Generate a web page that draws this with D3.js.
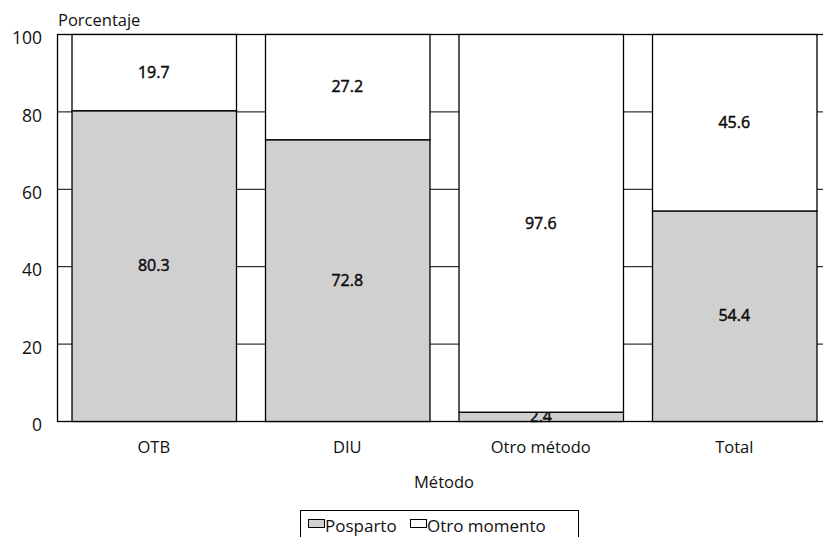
<!DOCTYPE html>
<html>
<head>
<meta charset="utf-8">
<script src="https://cdn.jsdelivr.net/npm/d3@7"></script>
<style>
  html, body { margin: 0; padding: 0; background: #fff; }
  svg { display: block; }
  text { font-family: "Open Sans", "DejaVu Sans", sans-serif; fill: #111; }
</style>
</head>
<body>
<svg id="chart" width="823" height="537"></svg>
<script>
const categories = ["OTB", "DIU", "Otro método", "Total"];
const posparto = [80.3, 72.8, 2.4, 54.4];
const otroMomento = [19.7, 27.2, 97.6, 45.6];
const yTicks = [0, 20, 40, 60, 80, 100];
const seriesNames = ["Posparto", "Otro momento"];
const seriesColors = ["#d0d0d0", "#ffffff"];

const svg = d3.select("#chart");
const plotL = 57, plotR = 831, plotT = 34, plotB = 421;

const x = d3.scaleBand().domain(categories).range([plotL, plotR]).paddingInner(0.15).paddingOuter(0.075);
const y = d3.scaleLinear().domain([0, 100]).range([plotB, plotT]);

// gridlines
svg.append("g").selectAll("line").data(yTicks.filter(t => t > 0 && t < 100)).join("line")
  .attr("x1", plotL).attr("x2", plotR)
  .attr("y1", d => y(d) + 0.5).attr("y2", d => y(d) + 0.5)
  .attr("stroke", "#000").attr("stroke-width", 1);

// frame
svg.append("rect").attr("x", plotL + 0.5).attr("y", plotT + 0.5)
  .attr("width", plotR - plotL).attr("height", plotB - plotT)
  .attr("fill", "none").attr("stroke", "#000").attr("stroke-width", 1.3);

// stacked data
const rows = categories.map((c, i) => ({ cat: c, Posparto: posparto[i], "Otro momento": otroMomento[i] }));
const stack = d3.stack().keys(seriesNames)(rows);

const layers = svg.append("g").selectAll("g").data(stack).join("g")
  .attr("fill", (d, i) => seriesColors[i]);

layers.selectAll("rect").data(d => d).join("rect")
  .attr("x", d => x(d.data.cat) + 0.5)
  .attr("width", x.bandwidth())
  .attr("y", d => y(d[1]) + 0.5)
  .attr("height", d => y(d[0]) - y(d[1]))
  .attr("stroke", "#000").attr("stroke-width", 1.3);

// value labels
layers.selectAll("text").data(d => d.map(v => ({ v, key: d.key }))).join("text")
  .attr("x", d => x(d.v.data.cat) + x.bandwidth() / 2)
  .attr("y", d => (y(d.v[0]) + y(d.v[1])) / 2)
  .attr("dy", "0.36em")
  .attr("text-anchor", "middle")
  .attr("font-size", 16)
  .attr("font-weight", 400)
  .attr("fill", "#000")
  .attr("stroke", "#000")
  .attr("stroke-width", 0.45)
  .text(d => d.v.data[d.key].toFixed(1));

// y axis labels
const yAxis = d3.axisLeft(y).tickValues(yTicks).tickSize(0).tickPadding(15);
const gy = svg.append("g").attr("transform", `translate(${plotL},4)`).call(yAxis);
gy.select(".domain").remove();
gy.selectAll("text").attr("font-size", 17.5).attr("font-family", null).attr("fill", "#111");

// x axis labels
const xAxis = d3.axisBottom(x).tickSize(0).tickPadding(20);
const gx = svg.append("g").attr("transform", `translate(0,${plotB})`).call(xAxis);
gx.select(".domain").remove();
gx.selectAll("text").attr("font-size", 16.5).attr("font-family", null).attr("fill", "#111");

// axis titles
svg.append("text").attr("x", 58).attr("y", 26).attr("font-size", 16.5).text("Porcentaje");
svg.append("text").attr("x", (plotL + plotR) / 2).attr("y", 488)
  .attr("text-anchor", "middle").attr("font-size", 16.5).text("Método");

// legend
const lg = svg.append("g");
lg.append("rect").attr("x", 300.5).attr("y", 510.5).attr("width", 278).attr("height", 40)
  .attr("fill", "#fff").attr("stroke", "#000").attr("stroke-width", 1);
const legendX = [308, 410];
seriesNames.forEach((name, i) => {
  lg.append("rect").attr("x", legendX[i] + 0.5).attr("y", 519.5).attr("width", 16).attr("height", 8)
    .attr("fill", seriesColors[i]).attr("stroke", "#000").attr("stroke-width", 1);
  lg.append("text").attr("x", legendX[i] + 17).attr("y", 532).attr("font-size", 17).text(name);
});
</script>
</body>
</html>
